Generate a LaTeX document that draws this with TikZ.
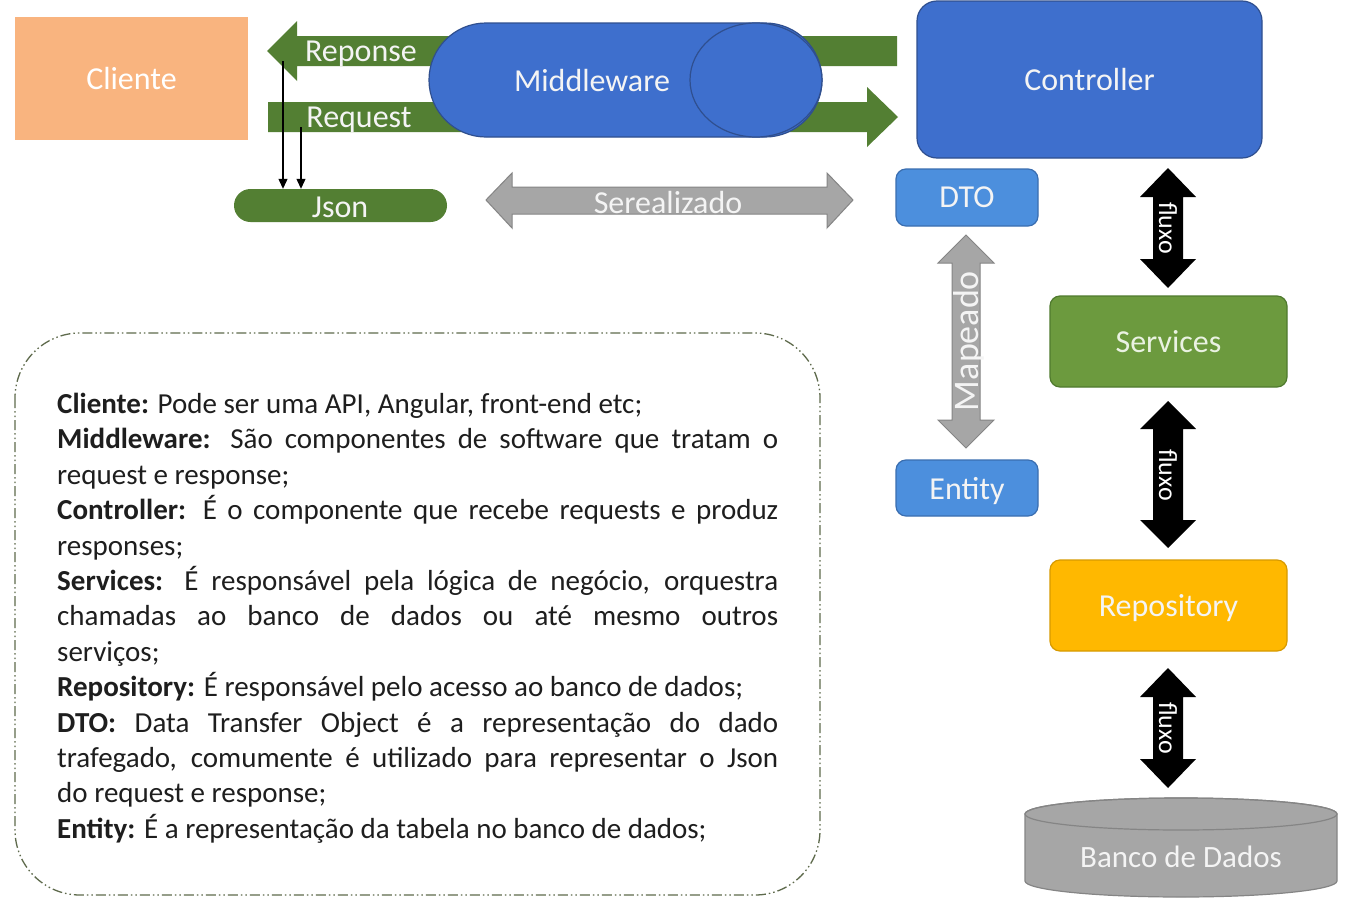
\documentclass[tikz,border=0pt]{standalone}
\usepackage{fontspec}
\setmainfont{Carlito}
\usetikzlibrary{arrows.meta,shapes.geometric,shapes.misc}
\definecolor{cliente}{HTML}{F9B47F}
\definecolor{mblue}{HTML}{3E6FCD}
\definecolor{mborder}{HTML}{2F4F8F}
\definecolor{lblue}{HTML}{4C8FDD}
\definecolor{lborder}{HTML}{3A6EB0}
\definecolor{agreen}{HTML}{537F33}
\definecolor{sgreen}{HTML}{6C9A3E}
\definecolor{sborder}{HTML}{4F7A2E}
\definecolor{repo}{HTML}{FFB800}
\definecolor{repoborder}{HTML}{D79A00}
\definecolor{agray}{HTML}{A6A6A6}
\definecolor{gborder}{HTML}{858585}
\definecolor{boxline}{HTML}{5E6A4C}
\definecolor{txt}{HTML}{1E1E1E}
\definecolor{softwhite}{HTML}{F4F4F4}
\definecolor{greenwhite}{HTML}{EAF2E2}
\begin{document}
\begin{tikzpicture}[x=1pt,y=-1pt,
  lbl/.style={text=softwhite, font=\fontsize{32}{38}\selectfont, inner sep=0, text depth=0pt},
  flux/.style={text=white, font=\fontsize{26}{30}\selectfont, inner sep=0, rotate=-90, text depth=0pt},
  box/.style={draw, line width=1.2pt, rounded corners=10pt, inner sep=0, text depth=0pt,
              font=\fontsize{32}{38}\selectfont, text=softwhite},
  garrow/.style={fill=agreen},
  grayarrow/.style={fill=agray, draw=gborder, line width=1pt},
  blackarrow/.style={fill=black},
  jsonarrow/.style={-{Triangle[length=10pt,width=9pt]}, line width=1.1pt},
]
\useasboundingbox (0,0) rectangle (1345,913);
\fill[white] (0,0) rectangle (1345,913);

% Cliente
\node[fill=cliente, minimum width=233, minimum height=123, inner sep=0, text depth=0pt,
      font=\fontsize{32}{38}\selectfont, text=white] (cliente) at (131.5,78.5) {Cliente};

% green response / request arrows
\fill[garrow] (267,51) -- (297,21) -- (297,36) -- (897,36) -- (897,66) -- (297,66) -- (297,81) -- cycle;
\fill[garrow] (268,102) -- (867,102) -- (867,87) -- (898,117) -- (867,147) -- (867,132) -- (268,132) -- cycle;
\node[lbl] (reponse) at (361,51) {Reponse};
\node[lbl] (request) at (359,117) {Request};

% Middleware
\node[rounded rectangle, fill=mblue, draw=mborder, line width=1.2pt,
      minimum width=393, minimum height=114, inner sep=0] (mw) at (625.5,80) {};
\draw[fill=mblue, draw=mborder, line width=1.2pt] (756,80) ellipse [x radius=66pt, y radius=57pt];
\node[lbl] (mwlabel) at (592,80) {Middleware};

% Controller
\node[box, fill=mblue, draw=mborder, rounded corners=20pt,
      minimum width=345, minimum height=157] (ctrl) at (1089.5,79.5) {Controller};

% Json
\node[rounded rectangle, fill=agreen, minimum width=213, minimum height=33, inner sep=0] (json) at (340.5,205.5) {};
\node[lbl] (jsonlabel) at (340,207) {Json};
\coordinate (rs) at (283,61);
\coordinate (rq) at (301,127);
\draw[jsonarrow] (rs) -- (rs |- json.north);
\draw[jsonarrow] (rq) -- (rq |- json.north);

% Serealizado
\draw[grayarrow] (486,200) -- (512,173) -- (512,187) -- (827,187) -- (827,173) -- (853,200)
  -- (827,228) -- (827,214) -- (512,214) -- (512,228) -- cycle;
\node[lbl] (ser) at (668,202) {Serealizado};

% DTO / Entity
\node[box, fill=lblue, draw=lborder, minimum width=142, minimum height=57] (dto) at (967,197.5) {DTO};
\node[box, fill=lblue, draw=lborder, minimum width=142, minimum height=56] (entity) at (967,488) {Entity};

% Mapeado
\draw[grayarrow] (966,235) -- (994,263) -- (980,263) -- (980,420) -- (994,420) -- (966,448)
  -- (938,420) -- (952,420) -- (952,263) -- (938,263) -- cycle;
\node[lbl, font=\fontsize{36}{40}\selectfont, rotate=90] (map) at (966,341) {Mapeado};

% Services / Repository
\node[box, fill=sgreen, draw=sborder, minimum width=237, minimum height=91,
      text=greenwhite] (serv) at (1168.5,341.5) {Services};
\node[box, fill=repo, draw=repoborder, minimum width=237, minimum height=91,
      text=softwhite] (repo) at (1168.5,605.5) {Repository};

% fluxo arrows
\fill[blackarrow] (1168,168) -- (1196,197) -- (1183,197) -- (1183,259) -- (1196,259) -- (1168,288)
  -- (1140,259) -- (1153,259) -- (1153,197) -- (1140,197) -- cycle;
\fill[blackarrow] (1168,401) -- (1196,429) -- (1183,429) -- (1183,520) -- (1196,520) -- (1168,548)
  -- (1140,520) -- (1153,520) -- (1153,429) -- (1140,429) -- cycle;
\fill[blackarrow] (1168,668) -- (1196,697) -- (1183,697) -- (1183,759) -- (1196,759) -- (1168,788)
  -- (1140,759) -- (1153,759) -- (1153,697) -- (1140,697) -- cycle;
\node[flux] (f1) at (1168,228) {fluxo};
\node[flux] (f2) at (1168,475) {fluxo};
\node[flux] (f3) at (1168,728) {fluxo};

% Banco de Dados
\draw[fill=agray, draw=gborder, line width=1.2pt]
  (1025,814) -- (1025,881) arc [start angle=180, end angle=360, x radius=156pt, y radius=16pt]
  -- (1337,814) arc [start angle=0, end angle=180, x radius=156pt, y radius=16pt] -- cycle;
\draw[draw=gborder, line width=1.2pt] (1181,814) ellipse [x radius=156pt, y radius=16pt];
\node[lbl, font=\fontsize{31}{36}\selectfont] (db) at (1181,857) {Banco de Dados};

% text box
\draw[boxline, line width=1.3pt, dash pattern=on 10pt off 3pt on 1.5pt off 3pt on 1.5pt off 3pt,
      rounded corners=65pt] (15,333) rectangle (820,895);
\node[anchor=north west, inner sep=0, align=left, text=txt,
      font=\fontsize{29}{35.4}\selectfont] (desc) at (57,393) {%
\textbf{Cliente:} Pode ser uma API, Angular, front-end etc;\\
\makebox[721pt][s]{\textbf{Middleware:} São componentes de software que tratam o}\\
request e response;\\
\makebox[721pt][s]{\textbf{Controller:} É o componente que recebe requests e produz}\\
responses;\\
\makebox[721pt][s]{\textbf{Services:} É responsável pela lógica de negócio, orquestra}\\
\makebox[721pt][s]{chamadas ao banco de dados ou até mesmo outros}\\
serviços;\\
\textbf{Repository:} É responsável pelo acesso ao banco de dados;\\
\makebox[721pt][s]{\textbf{DTO:} Data Transfer Object é a representação do dado}\\
\makebox[721pt][s]{trafegado, comumente é utilizado para representar o Json}\\
do request e response;\\
\textbf{Entity:} É a representação da tabela no banco de dados;};
\end{tikzpicture}
\end{document}
